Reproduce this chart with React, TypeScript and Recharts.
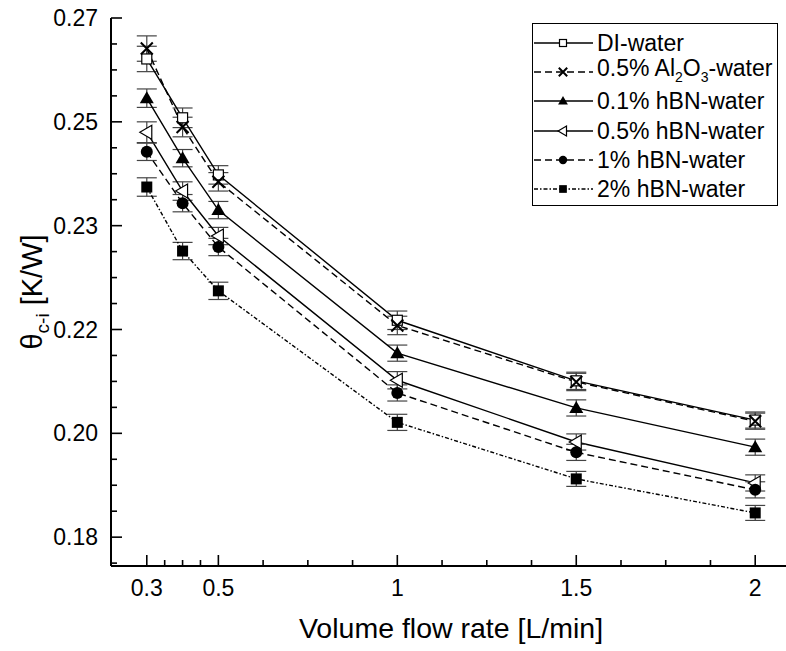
import React from "react";
import { LineChart, Line, XAxis, YAxis, ErrorBar, Legend, Label } from "recharts";

// flow rates in L/min
const flowRates = [0.3, 0.4, 0.5, 1, 1.5, 2];

// thermal resistance θc-i [K/W]
const diWater = [0.2629, 0.2527, 0.2428, 0.2176, 0.2071, 0.2003];
const al2o3Water = [0.2647, 0.2511, 0.2416, 0.2167, 0.2069, 0.2001];
const hbn01 = [0.2561, 0.2457, 0.2367, 0.2119, 0.2024, 0.1956];
const hbn05 = [0.2502, 0.24, 0.2322, 0.2072, 0.1965, 0.1894];
const hbn1 = [0.2468, 0.2379, 0.2303, 0.205, 0.1947, 0.1882];
const hbn2 = [0.2407, 0.2296, 0.2227, 0.1999, 0.1901, 0.1842];

// error bar half-heights
const diWaterErr = [0.0022, 0.0017, 0.0016, 0.0016, 0.0015, 0.0014];
const al2o3WaterErr = [0.0022, 0.0017, 0.0016, 0.0016, 0.0015, 0.0014];
const hbn01Err = [0.0016, 0.0015, 0.0015, 0.0014, 0.0014, 0.0014];
const hbn05Err = [0.0018, 0.0016, 0.0015, 0.0015, 0.0014, 0.0014];
const hbn1Err = [0.0015, 0.0015, 0.0015, 0.0014, 0.0014, 0.0014];
const hbn2Err = [0.0016, 0.0015, 0.0015, 0.0014, 0.0013, 0.0013];

const xTicks = [0.3, 0.5, 1, 1.5, 2];
const xMinorTicks = [0.35, 0.4, 0.45, 0.625, 0.75, 0.875, 1.125, 1.25, 1.375, 1.625, 1.75, 1.875];
const yTicks = [0.18, 0.198, 0.216, 0.234, 0.252, 0.27];
const yMinorTicks = [
  0.1755, 0.1845, 0.189, 0.1935, 0.2025, 0.207, 0.2115, 0.2205, 0.225, 0.2295,
  0.2385, 0.243, 0.2475, 0.2565, 0.261, 0.2655,
];

const allXTicks = [...xTicks, ...xMinorTicks].sort((a, b) => a - b);
const allYTicks = [...yTicks, ...yMinorTicks].sort((a, b) => a - b);

const FONT = "'Liberation Sans', Arial, sans-serif";

type MarkerType = "openSquare" | "cross" | "triUp" | "triLeft" | "circle" | "square";

const series: {
  key: string;
  name: React.ReactNode;
  values: number[];
  errors: number[];
  dash?: string;
  marker: MarkerType;
}[] = [
  { key: "di", name: "DI-water", values: diWater, errors: diWaterErr, marker: "openSquare" },
  {
    key: "al",
    name: (
      <>
        0.5% Al<sub style={{ fontSize: 14 }}>2</sub>O<sub style={{ fontSize: 14 }}>3</sub>-water
      </>
    ),
    values: al2o3Water,
    errors: al2o3WaterErr,
    dash: "7 4",
    marker: "cross",
  },
  { key: "h01", name: "0.1% hBN-water", values: hbn01, errors: hbn01Err, marker: "triUp" },
  { key: "h05", name: "0.5% hBN-water", values: hbn05, errors: hbn05Err, marker: "triLeft" },
  { key: "h1", name: "1% hBN-water", values: hbn1, errors: hbn1Err, dash: "7 4", marker: "circle" },
  { key: "h2", name: "2% hBN-water", values: hbn2, errors: hbn2Err, dash: "4 2 1.5 2", marker: "square" },
];

const rows = flowRates.map((x, i) => {
  const row: Record<string, number> = { x };
  series.forEach((s) => {
    row[s.key] = s.values[i];
    row[s.key + "Err"] = s.errors[i];
  });
  return row;
});

const Marker = ({ type, cx, cy, s = 1 }: { type: MarkerType; cx: number; cy: number; s?: number }) => {
  switch (type) {
    case "openSquare":
      return <rect x={cx - 5 * s} y={cy - 5 * s} width={10 * s} height={10 * s} fill="#fff" stroke="#000" strokeWidth={1.2} />;
    case "cross":
      return (
        <path
          d={`M${cx - 6 * s},${cy - 6 * s}L${cx + 6 * s},${cy + 6 * s}M${cx - 6 * s},${cy + 6 * s}L${cx + 6 * s},${cy - 6 * s}`}
          stroke="#000"
          strokeWidth={2}
          fill="none"
        />
      );
    case "triUp":
      return (
        <polygon
          points={`${cx},${cy - 7 * s} ${cx + 7 * s},${cy + 5 * s} ${cx - 7 * s},${cy + 5 * s}`}
          fill="#000"
        />
      );
    case "triLeft":
      return (
        <polygon
          points={`${cx - 7 * s},${cy} ${cx + 5 * s},${cy - 7 * s} ${cx + 5 * s},${cy + 7 * s}`}
          fill="#fff"
          stroke="#000"
          strokeWidth={1.2}
        />
      );
    case "circle":
      return <circle cx={cx} cy={cy} r={6 * s} fill="#000" />;
    case "square":
      return <rect x={cx - 5.5 * s} y={cy - 5.5 * s} width={11 * s} height={11 * s} fill="#000" />;
  }
  return null;
};

const LegendBox = () => (
  <div
    style={{
      border: "1px solid #000",
      background: "#fff",
      width: 244,
      padding: "4px 0 1px 0",
      fontFamily: FONT,
      fontSize: 23,
      color: "#000",
    }}
  >
    {series.map((s) => (
      <div key={s.key} style={{ display: "flex", alignItems: "center", height: 29.3, whiteSpace: "nowrap" }}>
        <svg width={62} height={20} style={{ flex: "none" }}>
          <line x1={1} y1={10} x2={60} y2={10} stroke="#000" strokeWidth={1.3} strokeDasharray={s.dash} />
          <Marker type={s.marker} cx={30} cy={10} s={0.7} />
        </svg>
        <span style={{ marginLeft: 2, lineHeight: "22px" }}>{s.name}</span>
      </div>
    ))}
  </div>
);

const YTitle = (props: any) => {
  const vb = props.viewBox || { x: 0, y: 0, width: 111, height: 548 };
  const x = vb.x + 42;
  const y = vb.y + vb.height / 2;
  return (
    <text
      x={x}
      y={y}
      transform={`rotate(-90, ${x}, ${y})`}
      textAnchor="middle"
      fontFamily={FONT}
      fontSize={29}
      fill="#000"
    >
      θ
      <tspan fontSize={19} dy={7}>c-i</tspan>
      <tspan dy={-7}> [K/W]</tspan>
    </text>
  );
};

// ticks point into the plot; minor ones get a shorter line and no label
const YTick = (props: any) => {
  const x = Number(props.x);
  const y = Number(props.y);
  const v = Number(props.payload.value);
  const major = yTicks.includes(v);
  return (
    <g>
      <path d={`M${x + 13},${y}H${x + 13 + (major ? 11 : 6)}`} stroke="#000" strokeWidth={1.6} fill="none" />
      {major && (
        <text x={x} y={y} dy="0.355em" textAnchor="end" fontFamily={FONT} fontSize={23} fill="#000">
          {v.toFixed(2)}
        </text>
      )}
    </g>
  );
};

const XTick = (props: any) => {
  const x = Number(props.x);
  const y = Number(props.y);
  const v = Number(props.payload.value);
  const major = xTicks.includes(v);
  return (
    <g>
      <path d={`M${x},${y - 14}V${y - 14 - (major ? 11 : 6)}`} stroke="#000" strokeWidth={1.6} fill="none" />
      {major && (
        <text x={x} y={y} dy="0.71em" textAnchor="middle" fontFamily={FONT} fontSize={23} fill="#000">
          {String(v)}
        </text>
      )}
    </g>
  );
};

export default function App() {
  return (
    <div
      style={{
        position: "fixed",
        left: 0,
        top: 0,
        width: 786,
        height: 651,
        overflow: "hidden",
        background: "#fff",
      }}
    >
      <LineChart width={800} height={651} data={rows} margin={{ top: 18, right: 9, bottom: 10, left: 0 }}>
        <XAxis
          xAxisId="main"
          type="number"
          dataKey="x"
          domain={[0.2, 2.1]}
          ticks={allXTicks}
          interval={0}
          tickSize={0}
          tickMargin={14}
          tick={<XTick />}
          tickLine={false}
          axisLine={{ stroke: "#000", strokeWidth: 2 }}
          height={75}
          allowDataOverflow
        >
          <Label
            value="Volume flow rate [L/min]"
            position="insideBottom"
            offset={3}
            style={{ fill: "#000", fontSize: 28.5, fontFamily: FONT }}
          />
        </XAxis>
        <XAxis
          xAxisId="top"
          orientation="top"
          type="number"
          dataKey="x"
          domain={[0.2, 2.1]}
          tick={false}
          tickLine={false}
          axisLine={{ stroke: "#000", strokeWidth: 2 }}
          height={0}
          allowDataOverflow
        />
        <YAxis
          yAxisId="main"
          type="number"
          domain={[0.175, 0.27]}
          ticks={allYTicks}
          interval={0}
          tickSize={0}
          tickMargin={13}
          tick={<YTick />}
          tickLine={false}
          axisLine={{ stroke: "#000", strokeWidth: 2 }}
          width={111}
          allowDataOverflow
        >
          <Label content={<YTitle />} />
        </YAxis>
        <Legend
          layout="horizontal"
          verticalAlign="middle"
          align="center"
          content={<LegendBox />}
          wrapperStyle={{ position: "absolute", left: 532, top: 23, width: "auto", height: "auto" }}
        />
        {series.map((s) => (
          <Line
            key={s.key}
            xAxisId="main"
            yAxisId="main"
            type="linear"
            dataKey={s.key}
            stroke="#000"
            strokeWidth={1.4}
            strokeDasharray={s.dash}
            isAnimationActive={false}
            dot={(p: any) => <Marker key={`${s.key}-${p.index}`} type={s.marker} cx={p.cx} cy={p.cy} />}
            activeDot={false}
          >
            <ErrorBar
              dataKey={s.key + "Err"}
              direction="y"
              width={10}
              stroke="#444"
              strokeWidth={1.2}
              isAnimationActive={false}
            />
          </Line>
        ))}
      </LineChart>
    </div>
  );
}
